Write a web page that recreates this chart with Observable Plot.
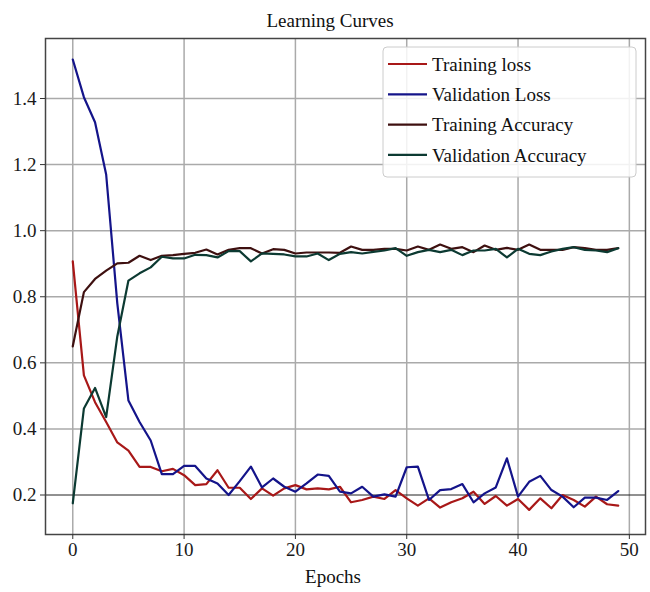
<!DOCTYPE html>
<html>
<head>
<meta charset="utf-8">
<script src="https://cdn.jsdelivr.net/npm/d3@7"></script>
<script src="https://cdn.jsdelivr.net/npm/@observablehq/plot@0.6"></script>
<style>
  html, body { margin: 0; padding: 0; background: white; }
</style>
</head>
<body>
<div id="chart"></div>
<script>
const trainLoss = [0.907, 0.562, 0.481, 0.421, 0.359, 0.334, 0.285, 0.285, 0.272, 0.279,
  0.260, 0.230, 0.233, 0.275, 0.222, 0.222, 0.188, 0.220, 0.198, 0.220,
  0.230, 0.217, 0.220, 0.217, 0.225, 0.178, 0.185, 0.195, 0.188, 0.215,
  0.190, 0.168, 0.190, 0.162, 0.178, 0.190, 0.210, 0.173, 0.197, 0.168,
  0.188, 0.155, 0.190, 0.160, 0.200, 0.185, 0.165, 0.195, 0.172, 0.168];
const valLoss = [1.518, 1.404, 1.328, 1.170, 0.780, 0.486, 0.421, 0.365, 0.263, 0.263,
  0.288, 0.288, 0.250, 0.235, 0.200, 0.242, 0.286, 0.223, 0.250, 0.225,
  0.210, 0.235, 0.262, 0.258, 0.210, 0.205, 0.225, 0.195, 0.202, 0.195,
  0.284, 0.286, 0.185, 0.215, 0.218, 0.233, 0.178, 0.205, 0.223, 0.311,
  0.195, 0.240, 0.258, 0.215, 0.195, 0.163, 0.192, 0.192, 0.185, 0.212];
const trainAcc = [0.650, 0.814, 0.854, 0.879, 0.901, 0.903, 0.924, 0.911, 0.924, 0.926,
  0.930, 0.933, 0.943, 0.928, 0.942, 0.947, 0.947, 0.931, 0.944, 0.942,
  0.931, 0.934, 0.934, 0.934, 0.933, 0.952, 0.942, 0.942, 0.945, 0.945,
  0.940, 0.952, 0.942, 0.958, 0.945, 0.950, 0.935, 0.955, 0.942, 0.948,
  0.942, 0.958, 0.942, 0.942, 0.942, 0.950, 0.947, 0.942, 0.942, 0.947];
const valAcc = [0.175, 0.462, 0.524, 0.436, 0.680, 0.849, 0.871, 0.889, 0.921, 0.916,
  0.916, 0.927, 0.926, 0.919, 0.938, 0.938, 0.907, 0.931, 0.930, 0.928,
  0.922, 0.922, 0.931, 0.911, 0.930, 0.935, 0.931, 0.936, 0.940, 0.947,
  0.924, 0.935, 0.942, 0.935, 0.942, 0.926, 0.940, 0.940, 0.945, 0.919,
  0.945, 0.930, 0.926, 0.937, 0.945, 0.950, 0.942, 0.940, 0.935, 0.947];

const seriesNames = ["Training loss", "Validation Loss", "Training Accuracy", "Validation Accuracy"];
const seriesColors = ["#a81818", "#14148a", "#3e1010", "#0c3a32"];
const xTicks = [0, 10, 20, 30, 40, 50];
const yTicks = [0.2, 0.4, 0.6, 0.8, 1.0, 1.2, 1.4];
const titleText = "Learning Curves";
const xLabel = "Epochs";

const allSeries = [trainLoss, valLoss, trainAcc, valAcc];
const rows = [];
allSeries.forEach((arr, si) => arr.forEach((v, i) => rows.push({epoch: i, value: v, series: seriesNames[si]})));

const font = "'Liberation Serif', 'Times New Roman', Times, serif";

const chart = Plot.plot({
  width: 650,
  height: 592,
  marginLeft: 45,
  marginRight: 5,
  marginTop: 38,
  marginBottom: 58,
  style: {fontFamily: font, fontSize: "19px", color: "#1a1a1a", background: "white"},
  x: {domain: [-2.45, 51.45]},
  y: {domain: [0.0805, 1.5816]},
  color: {domain: seriesNames, range: seriesColors},
  marks: [
    Plot.gridX(xTicks, {stroke: "#aaaaaa", strokeOpacity: 1, strokeWidth: 1.5}),
    Plot.gridY(yTicks.filter(v => v !== 0.2), {stroke: "#aaaaaa", strokeOpacity: 1, strokeWidth: 1.5}),
    Plot.gridY([0.2], {stroke: "#222", strokeOpacity: 1, strokeWidth: 1}),
    Plot.lineY(rows, {x: "epoch", y: "value", z: "series", stroke: "series", strokeWidth: 2.2}),
    Plot.frame({stroke: "#444", strokeWidth: 1.5}),
    Plot.axisX({ticks: xTicks, tickSize: 5, tickPadding: 3, label: null, stroke: "#333"}),
    Plot.axisY({ticks: yTicks, tickSize: 5, tickPadding: 4, label: null, tickFormat: d3.format(".1f"), stroke: "#333"})
  ]
});

const svg = d3.select(chart);
svg.append("text").attr("x", 330).attr("y", 27).attr("text-anchor", "middle")
  .attr("font-family", font).attr("font-size", 19).attr("fill", "#111").text(titleText);
svg.append("text").attr("x", 333).attr("y", 583).attr("text-anchor", "middle")
  .attr("font-family", font).attr("font-size", 19).attr("fill", "#111").text(xLabel);

const lg = svg.append("g");
lg.append("rect").attr("x", 383).attr("y", 47).attr("width", 253).attr("height", 130)
  .attr("rx", 4).attr("fill", "white").attr("fill-opacity", 0.85)
  .attr("stroke", "#cccccc").attr("stroke-width", 1);
seriesNames.forEach((name, i) => {
  const cy = 64 + i * 30.3;
  lg.append("line").attr("x1", 388).attr("x2", 427).attr("y1", cy).attr("y2", cy)
    .attr("stroke", seriesColors[i]).attr("stroke-width", 2.2);
  lg.append("text").attr("x", 432).attr("y", cy).attr("dy", "0.35em")
    .attr("text-anchor", "start")
    .attr("font-family", font).attr("font-size", 19).attr("fill", "#111").text(name);
});

document.getElementById("chart").appendChild(chart);
</script>
</body>
</html>
